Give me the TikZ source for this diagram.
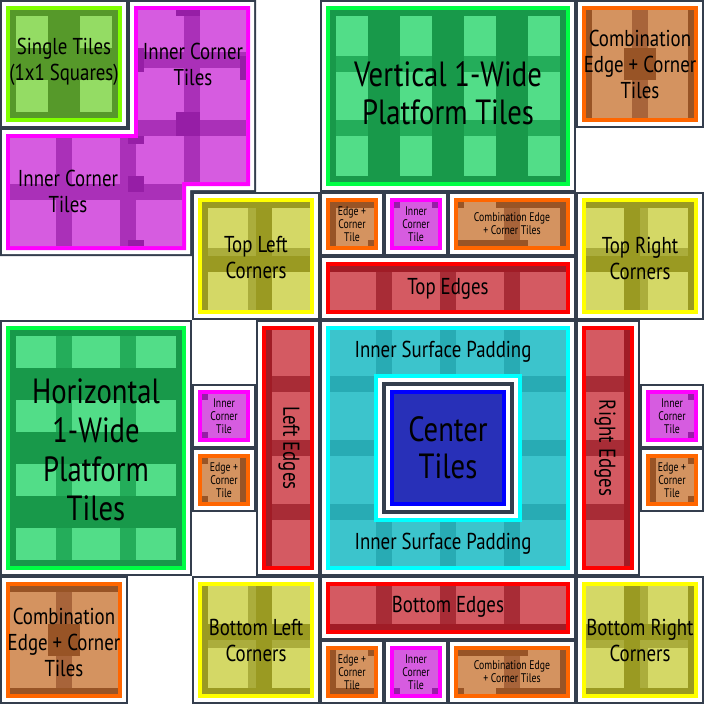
\documentclass[tikz,border=0pt]{standalone}
\usepackage{fontspec}
\newfontfamily\pix[FakeStretch=0.82]{PT Sans}
\newfontfamily\pixs[FakeStretch=0.78]{PT Sans}
\definecolor{slate}{HTML}{343E4D}
\definecolor{limeB}{HTML}{80FF00}
\definecolor{limeD}{HTML}{56992A}
\definecolor{limeL}{HTML}{94DC64}
\definecolor{magB}{HTML}{FF00FF}
\definecolor{magF}{HTML}{D65CE0}
\definecolor{magM}{HTML}{AA30B8}
\definecolor{magD}{HTML}{961EA6}
\definecolor{grnB}{HTML}{00FF44}
\definecolor{grnD}{HTML}{18994A}
\definecolor{grnL}{HTML}{52DD88}
\definecolor{grnM}{HTML}{24AD5A}
\definecolor{orB}{HTML}{FF6600}
\definecolor{orF}{HTML}{D49360}
\definecolor{orD}{HTML}{985426}
\definecolor{orM}{HTML}{A8643A}
\definecolor{yelB}{HTML}{FFFF00}
\definecolor{yelF}{HTML}{D4D866}
\definecolor{yelD}{HTML}{9A9A22}
\definecolor{yelM}{HTML}{ABAD3C}
\definecolor{redB}{HTML}{FF0000}
\definecolor{redF}{HTML}{D45A62}
\definecolor{redD}{HTML}{A01C26}
\definecolor{redS}{HTML}{A82C36}
\definecolor{cyB}{HTML}{00FFFF}
\definecolor{cyF}{HTML}{3CC4CC}
\definecolor{cyS}{HTML}{28ABB4}
\definecolor{bluB}{HTML}{0000FF}
\definecolor{bluF}{HTML}{2830B8}
\newcommand\rc[5]{\fill[#1] (#2,#3) rectangle (#4,#5);}
\newcommand\tileframe[6]{\rc{slate}{#1}{#2}{#3}{#4}\rc{white}{#1+2}{#2+2}{#3-2}{#4-2}\rc{#5}{#1+6}{#2+6}{#3-6}{#4-6}\rc{#6}{#1+10}{#2+10}{#3-10}{#4-10}}
\begin{document}
\begin{tikzpicture}[x=1pt,y=-1pt,
  bigtxt/.style={font={\pix\fontsize{35}{38}\selectfont},align=center,inner sep=0pt,text=black},
  midtxt/.style={font={\pix\fontsize{23}{26}\selectfont},align=center,inner sep=0pt,text=black},
  smalltxt/.style={font={\pixs\fontsize{12.5}{13}\selectfont},align=center,inner sep=0pt,text=black}]
\useasboundingbox (0,0) rectangle (704,704);
\fill[white] (0,0) rectangle (704,704);

% ---------- Single tiles
\tileframe{0}{0}{128}{128}{limeB}{limeD}
\rc{limeL}{16}{16}{48}{48}\rc{limeL}{80}{16}{112}{48}\rc{limeL}{16}{80}{48}{112}\rc{limeL}{80}{80}{112}{112}
\node[midtxt] (single) at (64,62) {Single Tiles\\(1x1 Squares)};

% ---------- Inner corner L
\fill[slate] (128,0)--(256,0)--(256,192)--(192,192)--(192,256)--(0,256)--(0,128)--(128,128)--cycle;
\fill[white] (130,2)--(254,2)--(254,190)--(190,190)--(190,254)--(2,254)--(2,130)--(130,130)--cycle;
\fill[magB] (134,6)--(250,6)--(250,186)--(186,186)--(186,250)--(6,250)--(6,134)--(134,134)--cycle;
\begin{scope}
\clip (138,10)--(246,10)--(246,182)--(182,182)--(182,246)--(10,246)--(10,138)--(138,138)--cycle;
\rc{magF}{0}{0}{256}{256}
\rc{magM}{184}{10}{200}{182}
\rc{magM}{138}{52}{246}{68}
\rc{magM}{138}{120}{246}{136}
\rc{magM}{56}{138}{72}{246}
\rc{magM}{120}{138}{136}{246}
\rc{magM}{10}{184}{182}{200}
\rc{magD}{176}{112}{200}{136}
\rc{magD}{176}{10}{200}{16}
\rc{magD}{128}{176}{144}{192}
\rc{magD}{128}{136}{144}{144}
\rc{magD}{128}{240}{144}{246}
\rc{magD}{138}{48}{144}{72}
\rc{magD}{240}{56}{246}{80}
\end{scope}
\node[midtxt] (innerA) at (193,64) {Inner Corner\\Tiles};
\node[midtxt] (innerB) at (68,191) {Inner Corner\\Tiles};

% ---------- Vertical 1-wide
\tileframe{320}{0}{576}{192}{grnB}{grnD}
\foreach \x in {336,400,464,528}{\rc{grnL}{\x}{16}{\x+32}{176}\rc{grnM}{\x}{56}{\x+32}{72}\rc{grnM}{\x}{120}{\x+32}{136}}
\node[bigtxt] (vert) at (448,93) {Vertical 1-Wide\\Platform Tiles};

% ---------- Combination top right
\tileframe{576}{0}{704}{128}{orB}{orF}
\rc{orM}{632}{10}{648}{118}\rc{orD}{586}{10}{592}{118}\rc{orD}{688}{10}{694}{118}\rc{orD}{624}{48}{656}{80}
\node[midtxt] (combTR) at (640,64) {Combination\\Edge + Corner\\Tiles};

% ---------- Top Left Corners
\tileframe{192}{192}{320}{320}{yelB}{yelF}
\rc{yelM}{248}{202}{256}{310}\rc{yelM}{202}{248}{310}{256}
\rc{yelD}{256}{202}{272}{310}\rc{yelD}{202}{256}{310}{272}
\rc{yelD}{202}{202}{310}{208}\rc{yelD}{202}{202}{208}{310}
\node[midtxt] (tlc) at (256,258) {Top Left\\Corners};

% ---------- Top Right Corners
\tileframe{576}{192}{704}{320}{yelB}{yelF}
\rc{yelM}{640}{202}{648}{310}\rc{yelM}{586}{248}{694}{256}
\rc{yelD}{624}{202}{640}{310}\rc{yelD}{586}{256}{694}{272}
\rc{yelD}{586}{202}{694}{208}\rc{yelD}{688}{202}{694}{310}
\node[midtxt] (trc) at (640,258) {Top Right\\Corners};

% ---------- Bottom Left Corners
\tileframe{192}{576}{320}{704}{yelB}{yelF}
\rc{yelM}{248}{586}{256}{694}\rc{yelM}{202}{640}{310}{648}
\rc{yelD}{256}{586}{272}{694}\rc{yelD}{202}{624}{310}{640}
\rc{yelD}{202}{688}{310}{694}\rc{yelD}{202}{586}{208}{694}
\node[midtxt] (blc) at (256,640) {Bottom Left\\Corners};

% ---------- Bottom Right Corners
\tileframe{576}{576}{704}{704}{yelB}{yelF}
\rc{yelM}{640}{586}{648}{694}\rc{yelM}{586}{640}{694}{648}
\rc{yelD}{624}{586}{640}{694}\rc{yelD}{586}{624}{694}{640}
\rc{yelD}{586}{688}{694}{694}\rc{yelD}{688}{586}{694}{694}
\node[midtxt] (brc) at (640,640) {Bottom Right\\Corners};

% ---------- Top small tiles
\tileframe{320}{192}{384}{256}{orB}{orF}
\rc{orD}{330}{202}{374}{208}\rc{orD}{330}{202}{336}{246}\rc{orD}{368}{240}{374}{246}
\node[smalltxt] (ecT) at (352,224) {Edge +\\Corner\\Tile};
\tileframe{384}{192}{448}{256}{magB}{magF}
\rc{magD}{394}{202}{400}{208}\rc{magD}{432}{202}{438}{208}
\node[smalltxt] (icT) at (416,224) {Inner\\Corner\\Tile};
\tileframe{448}{192}{576}{256}{orB}{orF}
\rc{orM}{504}{202}{520}{246}\rc{orD}{458}{202}{464}{208}\rc{orD}{496}{202}{566}{208}\rc{orD}{560}{202}{566}{246}\rc{orD}{458}{240}{528}{246}
\node[smalltxt] (cbT) at (512,224) {Combination Edge\\+ Corner Tiles};

% ---------- Top Edges
\tileframe{320}{256}{576}{320}{redB}{redF}
\foreach \x in {376,440,504}{\rc{redS}{\x}{266}{\x+16}{310}}
\rc{redD}{330}{266}{566}{272}
\node[midtxt] (tedge) at (448,289) {Top Edges};

% ---------- Horizontal 1-wide
\tileframe{0}{320}{192}{576}{grnB}{grnD}
\foreach \y in {336,400,464,528}{\rc{grnL}{16}{\y}{176}{\y+32}\rc{grnM}{56}{\y}{72}{\y+32}\rc{grnM}{120}{\y}{136}{\y+32}}
\node[bigtxt,font={\pix\fontsize{35}{39}\selectfont}] (horiz) at (96,450) {Horizontal\\1-Wide\\Platform\\Tiles};

% ---------- Left small tiles
\tileframe{192}{384}{256}{448}{magB}{magF}
\rc{magD}{202}{394}{208}{400}\rc{magD}{202}{432}{208}{438}
\node[smalltxt] (icL) at (224,416) {Inner\\Corner\\Tile};
\tileframe{192}{448}{256}{512}{orB}{orF}
\rc{orD}{240}{458}{246}{502}\rc{orD}{202}{458}{208}{464}\rc{orD}{202}{496}{208}{502}
\node[smalltxt] (ecL) at (224,480) {Edge +\\Corner\\Tile};

% ---------- Left Edges
\tileframe{256}{320}{320}{576}{redB}{redF}
\foreach \y in {376,440,504}{\rc{redS}{266}{\y}{310}{\y+16}}
\rc{redD}{266}{330}{272}{566}
\node[midtxt,rotate=-90] (ledge) at (289,448) {Left Edges};

% ---------- Inner surface padding
\tileframe{320}{320}{576}{576}{cyB}{cyF}
\foreach \v in {376,440,504}{\rc{cyS}{\v}{330}{\v+16}{566}\rc{cyS}{330}{\v}{566}{\v+16}}
\node[midtxt] (padT) at (443,352) {Inner Surface Padding};
\node[midtxt] (padB) at (443,544) {Inner Surface Padding};

% ---------- Center tiles
\rc{cyB}{374}{374}{522}{522}
\rc{white}{378}{378}{518}{518}
\rc{slate}{382}{382}{514}{514}
\rc{white}{386}{386}{510}{510}
\rc{bluB}{390}{390}{506}{506}
\rc{bluF}{394}{394}{502}{502}
\node[bigtxt,font={\pix\fontsize{35}{37}\selectfont}] (center) at (448,448) {Center\\Tiles};

% ---------- Right Edges
\tileframe{576}{320}{640}{576}{redB}{redF}
\foreach \y in {376,440,504}{\rc{redS}{586}{\y}{630}{\y+16}}
\rc{redD}{624}{330}{630}{566}
\node[midtxt,rotate=-90] (redge) at (605,448) {Right Edges};

% ---------- Right small tiles
\tileframe{640}{384}{704}{448}{magB}{magF}
\rc{magD}{688}{394}{694}{400}\rc{magD}{688}{432}{694}{438}
\node[smalltxt] (icR) at (672,416) {Inner\\Corner\\Tile};
\tileframe{640}{448}{704}{512}{orB}{orF}
\rc{orD}{650}{458}{656}{502}\rc{orD}{688}{458}{694}{464}\rc{orD}{688}{496}{694}{502}
\node[smalltxt] (ecR) at (672,480) {Edge +\\Corner\\Tile};

% ---------- Combination bottom left
\tileframe{0}{576}{128}{704}{orB}{orF}
\rc{orM}{56}{586}{72}{694}\rc{orD}{10}{586}{118}{592}\rc{orD}{10}{688}{118}{694}\rc{orD}{48}{624}{80}{656}
\node[midtxt] (combBL) at (64,642) {Combination\\Edge + Corner\\Tiles};

% ---------- Bottom Edges
\tileframe{320}{576}{576}{640}{redB}{redF}
\foreach \x in {376,440,504}{\rc{redS}{\x}{586}{\x+16}{630}}
\rc{redD}{330}{624}{566}{630}
\node[midtxt] (bedge) at (448,607) {Bottom Edges};

% ---------- Bottom small tiles
\tileframe{320}{640}{384}{704}{orB}{orF}
\rc{orD}{330}{688}{374}{694}\rc{orD}{330}{650}{336}{694}\rc{orD}{368}{650}{374}{656}
\node[smalltxt] (ecB) at (352,672) {Edge +\\Corner\\Tile};
\tileframe{384}{640}{448}{704}{magB}{magF}
\rc{magD}{394}{688}{400}{694}\rc{magD}{432}{688}{438}{694}
\node[smalltxt] (icB) at (416,672) {Inner\\Corner\\Tile};
\tileframe{448}{640}{576}{704}{orB}{orF}
\rc{orM}{504}{650}{520}{694}\rc{orD}{458}{688}{464}{694}\rc{orD}{496}{688}{566}{694}\rc{orD}{560}{650}{566}{694}\rc{orD}{458}{650}{528}{656}
\node[smalltxt] (cbB) at (512,672) {Combination Edge\\+ Corner Tiles};
\end{tikzpicture}
\end{document}
